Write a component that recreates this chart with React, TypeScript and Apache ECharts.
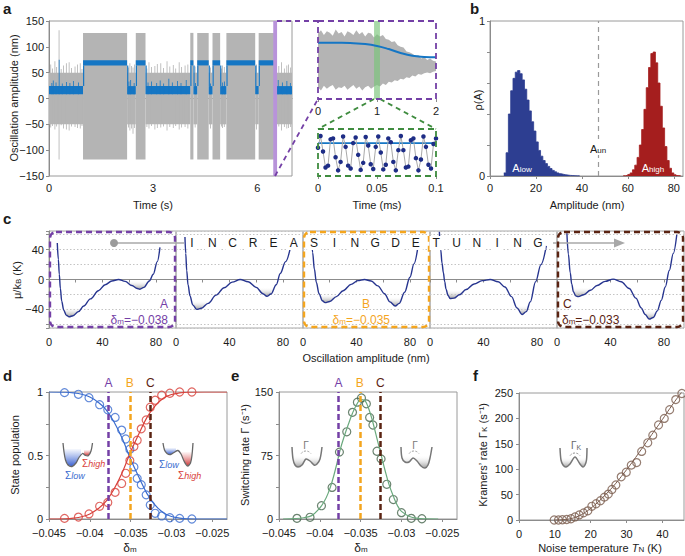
import React, { useEffect, useRef } from 'react';
import * as echarts from 'echarts';

const FONT = '"Liberation Sans", Arial, Helvetica, sans-serif';
const TEXT = '#1a1a1a';
const AXIS = '#8c8c8c';
const PURPLE = '#7440a6';
const ORANGE = '#f4a51e';
const BROWN = '#5a2312';
const GREEN = '#3f8c3f';
const GRAY = '#b4b4b4';
const TRACE_BLUE = '#1576c4';
const NAVY = '#27358f';
const D_BLUE = '#3a6ccf';
const D_RED = '#d8413b';

// ---------- panel a : telegraph trace ----------
const aSegStart = [0, 0.98, 2.25, 2.5, 2.78, 4.07, 4.16, 4.27, 4.6, 4.71, 4.93, 5.11, 5.94, 6.04, 6.48];
const aSegEnd = [0.98, 2.25, 2.5, 2.78, 4.07, 4.16, 4.27, 4.6, 4.71, 4.93, 5.11, 5.94, 6.04, 6.48, 7];
const aSegState = ['low', 'high', 'low', 'high', 'low', 'high', 'low', 'high', 'low', 'high', 'low', 'high', 'low', 'high', 'low'];
const aGrayLow = [-50, 50];
const aGrayHigh = [-118, 127];
const aBlueLow = [8, 24];
const aBlueHigh = [64, 74];
const aGraySpikeT = [0.05, 0.1, 0.17, 0.22, 0.29, 0.35, 0.42, 0.5, 0.58, 0.65, 0.75, 0.82, 0.9, 0.95, 2.29, 2.33, 2.38, 2.42, 2.46, 2.82, 2.88, 2.95, 3.05, 3.12, 3.22, 3.3, 3.4, 3.48, 3.58, 3.65, 3.75, 3.82, 3.92, 4.0, 4.21, 4.65, 4.97, 5.0, 5.05, 5.98, 6.52, 6.55, 6.62, 6.7, 6.78, 6.85, 6.9, 6.96];
const aGraySpikeHi = [66, 58, 72, 61, 132, 57, 64, 68, 70, 59, 62, 66, 68, 57, 60, 68, 63, 60, 66, 58, 70, 61, 63, 67, 68, 59, 72, 62, 65, 58, 70, 61, 64, 66, 62, 60, 58, 64, 61, 66, 60, 68, 63, 70, 58, 64, 66, 60];
const aGraySpikeLo = [-56, -53, -60, -54, -118, -52, -58, -60, -62, -54, -55, -57, -58, -53, -56, -62, -58, -68, -57, -55, -58, -53, -60, -57, -56, -54, -62, -55, -57, -53, -60, -56, -55, -58, -56, -58, -54, -57, -55, -60, -55, -57, -54, -62, -55, -58, -57, -55];
const aBlueSpikeT = [0.08, 0.12, 0.2, 0.29, 0.38, 0.5, 0.6, 0.7, 0.85, 2.3, 2.35, 2.45, 2.85, 2.95, 3.1, 3.2, 3.3, 3.45, 3.55, 3.7, 3.8, 3.95, 4.22, 4.65, 5.0, 5.05, 6.55, 6.6, 6.72, 6.85, 6.95];
const aBlueSpikeHi = [30, 35, 31, 75, 29, 32, 30, 34, 31, 33, 36, 30, 31, 33, 30, 35, 29, 38, 31, 34, 30, 36, 30, 29, 31, 33, 30, 36, 31, 34, 30];
const aHighlight = [6.46, 6.57];

// inset (ms)
const insetT = [0, 0.05, 0.1, 0.15, 0.2, 0.25, 0.3, 0.35, 0.4, 0.45, 0.5, 0.55, 0.6, 0.65, 0.7, 0.75, 0.8, 0.85, 0.9, 0.95, 1.0, 1.05, 1.1, 1.15, 1.2, 1.25, 1.3, 1.35, 1.4, 1.45, 1.5, 1.55, 1.6, 1.65, 1.7, 1.75, 1.8, 1.85, 1.9, 1.95, 2.0];
const insetUpper = [84, 88, 82, 87, 85, 81, 89, 84, 86, 80, 87, 85, 82, 88, 83, 86, 80, 85, 84, 79, 83, 80, 82, 77, 76, 73, 74, 69, 67, 66, 61, 60, 58, 55, 56, 52, 54, 50, 52, 49, 48];
const insetLower = [15, 11, 17, 13, 16, 18, 12, 15, 14, 17, 12, 15, 18, 13, 16, 11, 15, 17, 13, 16, 18, 16, 20, 18, 22, 21, 24, 23, 26, 25, 28, 27, 30, 29, 32, 31, 33, 34, 33, 35, 36];
const insetBlueT = [0, 0.4, 0.6, 0.8, 1.0, 1.2, 1.4, 1.6, 1.8, 2.0];
const insetBlueV = [72, 72, 71.5, 70.5, 68, 64, 59, 55.5, 54, 53.5];
const insetBand = [0.95, 1.05];
const zoomSamples = [60, 85, 52, 18, 22, 78, 80, 40, 12, 30, 84, 62, 22, 16, 70, 82, 45, 13, 28, 83, 65, 25, 15, 62, 84, 50, 14, 24, 80, 72, 30, 12, 55, 85, 55, 18, 20, 76, 80, 38, 12, 35, 84, 62, 24, 16, 68, 80];
const zoomMean = 70;

// ---------- panel b : histograms ----------
const histLowA = [6, 7, 8, 9, 10, 11, 12, 13, 14, 15, 16, 17, 18, 19, 20, 21, 22, 23, 24, 25, 26, 27, 28, 29, 30, 31, 32, 33, 34, 35, 36, 37, 38];
const histLowP = [0.02, 0.15, 0.4, 0.55, 0.63, 0.67, 0.68, 0.66, 0.62, 0.56, 0.49, 0.42, 0.35, 0.29, 0.22, 0.165, 0.128, 0.1, 0.08, 0.062, 0.048, 0.036, 0.027, 0.02, 0.015, 0.011, 0.008, 0.006, 0.004, 0.003, 0.002, 0.001, 0.001];
const histHighA = [58, 59, 60, 61, 62, 63, 64, 65, 66, 67, 68, 69, 70, 71, 72, 73, 74, 75, 76, 77, 78, 79, 80, 81, 82];
const histHighP = [0.002, 0.005, 0.01, 0.02, 0.04, 0.07, 0.12, 0.2, 0.3, 0.43, 0.57, 0.7, 0.79, 0.8, 0.73, 0.6, 0.45, 0.31, 0.19, 0.1, 0.05, 0.02, 0.008, 0.003, 0.001];
const aUnstable = 47;

// ---------- panel c : potentials ----------
const cCurve1 = [[6.2, 49], [7, 27], [7.7, 7], [8.5, -12], [9.5, -29], [11, -41], [13, -48], [15, -50], [18, -48.5], [22, -43], [26, -35.5], [31, -26], [37, -15], [42, -7], [47, -2], [52, 0], [57, -2.5], [62, -8], [66, -12], [68, -13], [71, -10.5], [75, -2], [78, 7], [81, 24], [83, 43]];
const cCurve2 = [[6.7, 57], [7.3, 35], [8, 12], [9, -7], [10.5, -22], [12.5, -34], [15.5, -40], [19, -38.5], [24, -32], [30, -21], [36, -11], [42, -3.5], [48, 0], [54, -3], [60, -10.5], [65, -19], [68, -22.5], [71, -19.5], [75, -7], [78, 8], [82, 24], [85.5, 42]];
const cCurve3 = [[6.4, 55], [7.2, 36], [8.5, 14], [10, -4], [12, -19], [14.5, -28.5], [16.5, -31], [20, -29.5], [25, -23], [30, -15], [36, -6.5], [41, -1.5], [46, 0], [51, -2], [56, -8.5], [61, -19], [65, -30], [69, -35.5], [72, -32], [76, -17], [80, 3], [83, 21], [86, 44]];
const cCurve4 = [[7, 64], [8, 40], [9, 22], [10, 9], [11, -3], [12, -13], [13.5, -21.5], [15, -25.5], [18, -25], [22, -20.5], [27, -13.5], [33, -6], [39, -1.5], [45, 0], [51, -3], [56, -10], [61, -23], [65, -38], [69, -47], [72, -43], [75, -30], [79, -3], [83, 20], [87, 45]];
const cCurve5 = [[7.4, 62], [8.5, 34], [9.9, 9], [11, -6], [12.3, -16.5], [14, -22], [16, -23], [20, -20.5], [25, -14.5], [30, -8], [36, -2.5], [42, 0.5], [48, -3], [54, -12], [59, -25], [63, -38], [66, -47], [69, -53], [72, -51], [75, -42], [78, -28], [81, -10], [84, 12], [87, 35], [89.6, 60]];
const cShadeLeft = [-37, -28, -19, -13, -10];
const cShadeRight = [-1, -10, -23, -34, -41];
const cBarrierA = [52, 48, 46, 45, 42];
const cWord = 'INCREASINGDETUNING';

// ---------- panel d : populations ----------
const dDelta = [-0.0431, -0.0414, -0.0401, -0.0388, -0.0378, -0.0369, -0.0361, -0.0356, -0.0351, -0.0346, -0.0342, -0.0337, -0.0331, -0.0326, -0.032, -0.0312, -0.0302, -0.029, -0.0275];
const dLow = [0.995, 0.982, 0.955, 0.9, 0.86, 0.8, 0.7, 0.63, 0.55, 0.41, 0.32, 0.27, 0.19, 0.11, 0.045, 0.024, 0.01, 0.005, 0];
const dHigh = [0.005, 0.015, 0.04, 0.1, 0.13, 0.21, 0.28, 0.36, 0.46, 0.57, 0.62, 0.71, 0.78, 0.88, 0.935, 0.975, 0.99, 1, 1];
const dFitDelta = [-0.045, -0.043, -0.042, -0.041, -0.04, -0.039, -0.038, -0.037, -0.036, -0.035, -0.034, -0.033, -0.032, -0.031, -0.03, -0.029, -0.028, -0.026, -0.0232];
const dFitLow = [1, 0.998, 0.993, 0.982, 0.96, 0.92, 0.86, 0.76, 0.63, 0.47, 0.33, 0.2, 0.11, 0.05, 0.02, 0.007, 0.002, 0, 0];
const dFitHigh = [0, 0.002, 0.007, 0.018, 0.04, 0.08, 0.14, 0.24, 0.37, 0.53, 0.67, 0.8, 0.89, 0.95, 0.98, 0.993, 0.998, 1, 1];
const markerDelta = [-0.0377, -0.0351, -0.0326];
const markerNames = ['A', 'B', 'C'];
const markerColors = [PURPLE, ORANGE, BROWN];

// ---------- panel e : switching rate ----------
const eDelta = [-0.0428, -0.0412, -0.0398, -0.0385, -0.0376, -0.0367, -0.036, -0.0354, -0.0349, -0.0343, -0.0339, -0.0335, -0.033, -0.0325, -0.0318, -0.031, -0.03, -0.0288, -0.0275];
const eRate = [0.8, 2, 15.7, 37.3, 79, 103, 126, 138, 143, 136, 120, 111, 80, 71, 41, 23, 7.5, 0.8, 0.3];
const eFitDelta = [-0.0445, -0.043, -0.042, -0.041, -0.04, -0.0395, -0.039, -0.0385, -0.038, -0.0375, -0.037, -0.0365, -0.036, -0.0355, -0.035, -0.0345, -0.034, -0.0335, -0.033, -0.0325, -0.032, -0.0315, -0.031, -0.0305, -0.03, -0.029, -0.028, -0.027, -0.0255];
const eFitRate = [0, 0.5, 1.5, 4, 13, 20, 30, 44, 62, 82, 98, 112, 125, 135, 141, 140, 130, 114, 95, 76, 57, 40, 27, 16, 9, 3, 0.8, 0.2, 0];

// ---------- panel f : Kramers rate ----------
const fTemp = [9.8, 11.0, 12.1, 13.3, 14.5, 15.6, 16.8, 18.0, 19.2, 20.3, 21.5, 22.7, 23.8, 24.9, 25.9, 27.0, 28.5, 29.9, 31.3, 32.8, 34.2, 35.9, 37.3, 38.9, 40.5, 42.0, 43.7, 45.4];
const fRate = [0, 0, 0.5, 1, 2.5, 6, 10, 14, 18, 27, 32, 38, 45, 51, 60, 69, 85, 94, 108, 113, 135, 152, 167, 187, 200, 217, 237, 249];
const fFitTemp = [10, 12, 14, 16, 18, 20, 22, 24, 26, 28, 30, 32, 34, 36, 38, 40, 42, 44, 45.5];
const fFitRate = [0, 0.5, 2, 6, 13, 23, 35, 49, 64, 81, 99, 118, 138, 158, 178, 198, 219, 239, 253];

// ---------- helpers ----------
const fmt = (v: number) => String(parseFloat(v.toFixed(4))).replace('-', '\u2212');

const labelStyle = (extra: any = {}) => ({ color: TEXT, fontSize: 11, fontFamily: FONT, margin: 6, ...extra });

function valAxis(gridIndex: number, min: number, max: number, interval: number | undefined, extra: any = {}) {
  const ax: any = {
    type: 'value', gridIndex, min, max,
    axisLine: { show: true, lineStyle: { color: AXIS, width: 1 } },
    axisTick: { show: true, length: 3, lineStyle: { color: AXIS } },
    axisLabel: labelStyle({ formatter: fmt }),
    splitLine: { show: false },
  };
  if (interval !== undefined) ax.interval = interval;
  return { ...ax, ...extra, axisLabel: { ...ax.axisLabel, ...(extra.axisLabel || {}) } };
}

const rectRender = (fill: string, minW = 0.8) => (params: any, api: any) => {
  const a = api.coord([api.value(0), api.value(3)]);
  const b = api.coord([api.value(1), api.value(2)]);
  return { type: 'rect', shape: { x: a[0], y: a[1], width: Math.max(b[0] - a[0], minW), height: b[1] - a[1] }, style: { fill } };
};

function wellPoints(curve: number[][], from: number, to: number, level: number) {
  const pts: number[][] = [];
  for (let i = 0; i < curve.length; i++) {
    const p = curve[i];
    if (p[0] >= from && p[0] <= to && p[1] < level) pts.push(p);
    const q = curve[i + 1];
    if (q && p[0] >= from && q[0] <= to) {
      if ((p[1] < level) !== (q[1] < level)) {
        const f = (level - p[1]) / (q[1] - p[1]);
        pts.push([p[0] + f * (q[0] - p[0]), level]);
      }
    }
  }
  return pts;
}

const grayGrad = () => new echarts.graphic.LinearGradient(0, 0, 0, 1, [
  { offset: 0, color: 'rgba(255,255,255,0)' },
  { offset: 1, color: 'rgba(140,140,140,0.85)' },
]);

function txt(x: number, y: number, text: string, o: any = {}) {
  return {
    type: 'text', x, y, rotation: o.rotation || 0, z: o.z || 50,
    style: {
      text, fill: o.color || TEXT, fontSize: o.size || 11, fontFamily: FONT,
      fontWeight: o.weight || 'normal', fontStyle: o.italic ? 'italic' : 'normal',
      align: o.align || 'center', verticalAlign: o.va || 'middle',
      rich: o.rich, backgroundColor: o.bg, padding: o.pad,
    },
  };
}

function subRich(color: string, size = 11, subSize = 8, italicSub = false) {
  return {
    a: { fontSize: size, fontFamily: FONT, fill: color, lineHeight: size + 3, verticalAlign: 'bottom' },
    i: { fontSize: size, fontFamily: FONT, fill: color, fontStyle: 'italic', lineHeight: size + 3, verticalAlign: 'bottom' },
    s: { fontSize: subSize, fontFamily: FONT, fill: color, fontStyle: italicSub ? 'italic' : 'normal', lineHeight: subSize - 2, verticalAlign: 'bottom' },
  };
}

function line(x1: number, y1: number, x2: number, y2: number, color: string, width = 1.5, dash: any = null) {
  return { type: 'line', z: 40, shape: { x1, y1, x2, y2 }, style: { stroke: color, lineWidth: width, lineDash: dash } };
}
function dashRect(x: number, y: number, w: number, h: number, color: string, r = 0, width = 2) {
  return { type: 'rect', z: 45, shape: { x, y, width: w, height: h, r }, style: { fill: 'none', stroke: color, lineWidth: width, lineDash: [6, 4] } };
}
function poly(points: number[][], fill: any) {
  return { type: 'polygon', z: 44, shape: { points }, style: { fill } };
}
function pline(points: number[][], color: string, width = 1.3) {
  return { type: 'polyline', z: 45, shape: { points, smooth: 0.3 }, style: { stroke: color, lineWidth: width, fill: 'none' } };
}

function buildOption() {
  const grids: any[] = [
    { left: 49, top: 21, width: 243, height: 155, show: true, borderColor: '#9a9a9a' },
    { left: 318, top: 21, width: 118, height: 78, show: false },
    { left: 318, top: 129, width: 118, height: 47, show: false },
    { left: 490, top: 21, width: 193, height: 155, show: true, borderColor: '#9a9a9a' },
  ];
  for (let i = 0; i < 5; i++) grids.push({ left: 49 + 127 * i, top: 231, width: 127, height: 97, show: true, borderColor: '#a8a8a8' });
  grids.push({ left: 49, top: 392, width: 178, height: 127, show: true, borderColor: '#9a9a9a' });
  grids.push({ left: 279, top: 392, width: 178, height: 127, show: true, borderColor: '#9a9a9a' });
  grids.push({ left: 519, top: 393, width: 165, height: 127, show: true, borderColor: '#9a9a9a' });

  const xAxes: any[] = [];
  const yAxes: any[] = [];
  // a main
  xAxes.push(valAxis(0, 0, 7, 3, { axisLabel: { showMaxLabel: false } }));
  yAxes.push(valAxis(0, -150, 150, 50, { axisLabel: { margin: 5 } }));
  // a insets
  xAxes.push(valAxis(1, 0, 2, 1, { axisLine: { show: false } }));
  yAxes.push({ type: 'value', gridIndex: 1, min: 0, max: 100, show: false });
  xAxes.push(valAxis(2, 0, 0.1, 0.05, { axisLine: { show: false } }));
  yAxes.push({ type: 'value', gridIndex: 2, min: 0, max: 100, show: false });
  // b
  xAxes.push(valAxis(3, 0, 84, 20, { axisLabel: { showMaxLabel: false } }));
  yAxes.push(valAxis(3, 0, 1, 0.2, { axisLabel: { formatter: (v: number) => (v === 0 || v === 1 ? String(v) : ''), margin: 5 } }));
  // c
  for (let i = 0; i < 5; i++) {
    xAxes.push(valAxis(4 + i, 0, 95, 20, {
      axisLabel: { margin: 8, showMaxLabel: false, formatter: (v: number) => (v === 0 || v === 40 || v === 80 ? String(v) : '') },
    }));
    yAxes.push(valAxis(4 + i, -65, 65, undefined, {
      splitNumber: 6,
      axisLine: { show: i === 0, lineStyle: { color: AXIS } },
      axisTick: { show: i === 0, length: 3, lineStyle: { color: AXIS } },
      axisLabel: { show: i === 0, margin: 5, formatter: (v: number) => (v === 40 || v === 0 || v === -40 ? fmt(v) : '') },
      splitLine: { show: true, lineStyle: { color: '#c4c4c4', type: [1.5, 2], width: 1 } },
    }));
  }
  // d, e
  const deltaFmt = (v: number) => fmt(v);
  xAxes.push(valAxis(9, -0.045, -0.0232, 0.005, { axisLabel: { showMaxLabel: false, margin: 8, formatter: deltaFmt } }));
  yAxes.push(valAxis(9, 0, 1, 0.25, { axisLabel: { margin: 6, formatter: (v: number) => (v === 0 || v === 0.5 || v === 1 ? String(v) : '') } }));
  xAxes.push(valAxis(10, -0.045, -0.0232, 0.005, { axisLabel: { showMaxLabel: false, margin: 8, formatter: deltaFmt } }));
  yAxes.push(valAxis(10, 0, 150, 37.5, { axisLabel: { margin: 6, formatter: (v: number) => (v === 0 || v === 75 || v === 150 ? String(v) : '') } }));
  // f
  xAxes.push(valAxis(11, 0, 46, 10, { axisLabel: { showMaxLabel: false, margin: 8 } }));
  yAxes.push(valAxis(11, 0, 250, 50, { axisLabel: { margin: 6 } }));

  const series: any[] = [];

  // ---- a main ----
  const grayRects: number[][] = [];
  const blueRects: number[][] = [];
  const transitions: number[][] = [];
  aSegStart.forEach((s, i) => {
    const g = aSegState[i] === 'high' ? aGrayHigh : aGrayLow;
    const b = aSegState[i] === 'high' ? aBlueHigh : aBlueLow;
    grayRects.push([s, aSegEnd[i], g[0], g[1]]);
    blueRects.push([s, aSegEnd[i], b[0], b[1]]);
    if (i > 0) transitions.push([s, s, aBlueLow[1], aBlueHigh[0]]);
  });
  aGraySpikeT.forEach((t, i) => grayRects.push([t - 0.012, t + 0.012, aGraySpikeLo[i], aGraySpikeHi[i]]));
  aBlueSpikeT.forEach((t, i) => blueRects.push([t - 0.009, t + 0.009, aBlueLow[0], aBlueSpikeHi[i]]));
  const enc = { x: [0, 1], y: [2, 3] };
  series.push({ type: 'custom', xAxisIndex: 0, yAxisIndex: 0, data: grayRects, encode: enc, renderItem: rectRender(GRAY), silent: true });
  series.push({ type: 'custom', xAxisIndex: 0, yAxisIndex: 0, data: blueRects, encode: enc, renderItem: rectRender(TRACE_BLUE), silent: true });
  series.push({ type: 'custom', xAxisIndex: 0, yAxisIndex: 0, data: transitions, encode: enc, renderItem: rectRender(TRACE_BLUE, 1.2), silent: true });
  series.push({ type: 'custom', xAxisIndex: 0, yAxisIndex: 0, data: [[aHighlight[0], aHighlight[1], -150, 150]], encode: enc, renderItem: rectRender('#b893da'), silent: true });

  // ---- a inset top ----
  series.push({
    type: 'custom', xAxisIndex: 1, yAxisIndex: 1, data: [[0, 0, 0, 0]], encode: enc, silent: true,
    renderItem: (p: any, api: any) => {
      const pts = insetT.map((t, i) => api.coord([t, insetUpper[i]]));
      for (let i = insetT.length - 1; i >= 0; i--) pts.push(api.coord([insetT[i], insetLower[i]]));
      return { type: 'polygon', shape: { points: pts }, style: { fill: GRAY } };
    },
  });
  series.push({ type: 'custom', xAxisIndex: 1, yAxisIndex: 1, data: [[insetBand[0], insetBand[1], 0, 100]], encode: enc, renderItem: rectRender('rgba(120,196,120,0.65)'), silent: true });
  series.push({ type: 'line', xAxisIndex: 1, yAxisIndex: 1, data: insetBlueT.map((t, i) => [t, insetBlueV[i]]), smooth: 0.5, symbol: 'none', lineStyle: { color: TRACE_BLUE, width: 2 }, silent: true });

  // ---- a inset bottom ----
  series.push({ type: 'line', xAxisIndex: 2, yAxisIndex: 2, data: [[0, zoomMean], [0.1, zoomMean]], symbol: 'none', lineStyle: { color: TRACE_BLUE, width: 1.6 }, silent: true });
  series.push({
    type: 'line', xAxisIndex: 2, yAxisIndex: 2, silent: true,
    data: zoomSamples.map((v, i) => [(i * 0.1) / (zoomSamples.length - 1), v]),
    symbol: 'circle', symbolSize: 4.5, itemStyle: { color: '#1e2d86' }, lineStyle: { color: '#a9a9a9', width: 1 },
  });

  // ---- b ----
  series.push({
    type: 'line', xAxisIndex: 3, yAxisIndex: 3, step: 'end', symbol: 'none', silent: true,
    data: [...histLowA.map((a, i) => [a, histLowP[i]]), [histLowA[histLowA.length - 1] + 1, 0]],
    lineStyle: { color: '#2d3e91', width: 0.8 }, areaStyle: { color: '#2d3e91', opacity: 1 },
    markLine: {
      silent: true, symbol: ['none', 'none'], label: { show: false }, precision: 6,
      data: [{ xAxis: aUnstable }], lineStyle: { color: '#9a9a9a', type: [5, 4], width: 1.2 },
    },
  });
  series.push({
    type: 'line', xAxisIndex: 3, yAxisIndex: 3, step: 'end', symbol: 'none', silent: true,
    data: [...histHighA.map((a, i) => [a, histHighP[i]]), [histHighA[histHighA.length - 1] + 1, 0]],
    lineStyle: { color: '#a51e1e', width: 0.8 }, areaStyle: { color: '#a51e1e', opacity: 1 },
  });

  // ---- c ----
  const curves = [cCurve1, cCurve2, cCurve3, cCurve4, cCurve5];
  curves.forEach((curve, i) => {
    series.push({
      type: 'custom', xAxisIndex: 4 + i, yAxisIndex: 4 + i, data: [[0, 0, 0, 0]], encode: enc, silent: true,
      renderItem: (p: any, api: any) => {
        const left = wellPoints(curve, 0, cBarrierA[i], cShadeLeft[i]).map((q) => api.coord(q));
        const right = wellPoints(curve, cBarrierA[i], 100, cShadeRight[i]).map((q) => api.coord(q));
        return {
          type: 'group', children: [
            { type: 'polygon', shape: { points: left }, style: { fill: grayGrad() } },
            { type: 'polygon', shape: { points: right }, style: { fill: grayGrad() } },
          ],
        };
      },
    });
    series.push({
      type: 'line', xAxisIndex: 4 + i, yAxisIndex: 4 + i, data: curve, smooth: 0.35, smoothMonotone: 'x',
      symbol: 'none', lineStyle: { color: NAVY, width: 1.4 }, silent: true,
    });
  });

  // ---- d ----
  const markLines = {
    silent: true, symbol: ['none', 'none'], precision: 6,
    data: markerDelta.map((x, i) => ({
      xAxis: x,
      lineStyle: { color: markerColors[i], type: [6, 3], width: 2.5 },
      label: { show: true, formatter: markerNames[i], position: 'end', color: markerColors[i], fontSize: 12, fontFamily: FONT, distance: 3 },
    })),
  };
  series.push({ type: 'line', xAxisIndex: 9, yAxisIndex: 9, data: dFitDelta.map((x, i) => [x, dFitLow[i]]), smooth: 0.4, symbol: 'none', lineStyle: { color: D_BLUE, width: 1.2 }, silent: true, markLine: markLines });
  series.push({ type: 'line', xAxisIndex: 9, yAxisIndex: 9, data: dFitDelta.map((x, i) => [x, dFitHigh[i]]), smooth: 0.4, symbol: 'none', lineStyle: { color: D_RED, width: 1.2 }, silent: true });
  series.push({ type: 'scatter', xAxisIndex: 9, yAxisIndex: 9, data: dDelta.map((x, i) => [x, dLow[i]]), symbol: 'circle', symbolSize: 8, itemStyle: { color: 'rgba(255,255,255,0)', borderColor: D_BLUE, borderWidth: 1.2 }, silent: true });
  series.push({ type: 'scatter', xAxisIndex: 9, yAxisIndex: 9, data: dDelta.map((x, i) => [x, dHigh[i]]), symbol: 'circle', symbolSize: 8, itemStyle: { color: 'rgba(255,255,255,0)', borderColor: D_RED, borderWidth: 1.2 }, silent: true });

  // ---- e ----
  series.push({ type: 'line', xAxisIndex: 10, yAxisIndex: 10, data: eFitDelta.map((x, i) => [x, eFitRate[i]]), smooth: 0.4, symbol: 'none', lineStyle: { color: '#6aa97d', width: 1.2 }, silent: true, markLine: markLines });
  series.push({ type: 'scatter', xAxisIndex: 10, yAxisIndex: 10, data: eDelta.map((x, i) => [x, eRate[i]]), symbol: 'circle', symbolSize: 8, itemStyle: { color: 'rgba(255,255,255,0)', borderColor: '#45644b', borderWidth: 1.2 }, silent: true });

  // ---- f ----
  series.push({ type: 'line', xAxisIndex: 11, yAxisIndex: 11, data: fFitTemp.map((x, i) => [x, fFitRate[i]]), smooth: 0.4, symbol: 'none', lineStyle: { color: '#7a5c4e', width: 1 }, silent: true });
  series.push({ type: 'scatter', xAxisIndex: 11, yAxisIndex: 11, data: fTemp.map((x, i) => [x, fRate[i]]), symbol: 'circle', symbolSize: 8, itemStyle: { color: 'rgba(255,255,255,0)', borderColor: '#7a5c4e', borderWidth: 1.2 }, silent: true });

  // ---------- graphics ----------
  const g: any[] = [];
  const L = { size: 15, weight: 'bold', align: 'left', va: 'top' };
  g.push(txt(3, 1, 'a', L), txt(470, 1, 'b', L), txt(3, 211, 'c', L), txt(3, 368, 'd', L), txt(231, 368, 'e', L), txt(473, 368, 'f', L));

  // axis titles
  g.push(txt(14, 98, 'Oscillation amplitude (nm)', { rotation: Math.PI / 2 }));
  g.push(txt(153, 205, 'Time (s)'), txt(377, 205, 'Time (ms)'), txt(587, 205, 'Amplitude (nm)'));
  g.push(txt(478, 100, 'ρ(A)', { rotation: Math.PI / 2 }));
  g.push(txt(15, 280, '{a|μ/k}{s|B}{a| (K)}', { rotation: Math.PI / 2, rich: subRich(TEXT, 11, 8) }));
  g.push(txt(366, 358, 'Oscillation amplitude (nm)'));
  g.push(txt(15, 455, 'State population', { rotation: Math.PI / 2 }));
  g.push(txt(130, 546, '{a|δ}{s|m}', { rich: subRich(TEXT, 12, 8) }));
  g.push(txt(243, 455, '{a|Switching rate Γ (s⁻¹)}', { rotation: Math.PI / 2, rich: subRich(TEXT, 11, 8) }));
  g.push(txt(361, 546, '{a|δ}{s|m}', { rich: subRich(TEXT, 12, 8) }));
  g.push(txt(481, 455, '{a|Kramers’ rate Γ}{s|K}{a| (s⁻¹)}', { rotation: Math.PI / 2, rich: subRich(TEXT, 11, 8) }));
  g.push(txt(600, 546, '{a|Noise temperature }{i|T}{s|N}{a| (K)}', { rich: subRich(TEXT, 11, 8) }));

  // panel a connectors / frames
  g.push(line(277, 21, 318, 21, PURPLE, 1.8, [5, 4]));
  g.push(line(275, 176, 318, 99, PURPLE, 1.8, [5, 4]));
  g.push(dashRect(318, 21, 118, 78, PURPLE, 0, 1.8));
  g.push(line(374, 99, 318, 129, GREEN, 1.8, [5, 4]));
  g.push(line(380, 99, 436, 129, GREEN, 1.8, [5, 4]));
  g.push(dashRect(318, 129, 118, 47, GREEN, 0, 1.8));

  // panel b labels
  g.push(txt(522, 166, '{a|A}{s|low}', { rich: subRich('#ffffff', 11, 8) }));
  g.push(txt(653, 166, '{a|A}{s|high}', { rich: subRich('#ffffff', 11, 8) }));
  g.push(txt(598, 147, '{a|A}{s|un}', { rich: subRich(TEXT, 11, 8), bg: '#ffffff', pad: [1, 1] }));

  // panel c frames and annotations
  g.push(dashRect(50, 232, 125, 95, PURPLE, 6, 2.4));
  g.push(dashRect(304, 232, 125, 95, ORANGE, 6, 2.4));
  g.push(dashRect(558, 232, 125, 95, BROWN, 6, 2.4));
  g.push({ type: 'circle', z: 46, shape: { cx: 114, cy: 243, r: 4 }, style: { fill: '#9b9b9b' } });
  g.push(line(114, 243, 184, 243, '#a8a8a8', 1.5));
  g.push(line(553, 243, 615, 243, '#a8a8a8', 1.5));
  g.push({ type: 'polygon', z: 46, shape: { points: [[614, 238.5], [625, 243], [614, 247.5]] }, style: { fill: '#a8a8a8' } });
  cWord.split('').forEach((ch, i) => {
    g.push(txt(192 + i * 20.35, 243, ch, { size: 12, bg: '#ffffff', pad: [1, 3], z: 60 }));
  });
  const dRich = (c: string) => subRich(c, 12, 8);
  g.push(txt(168, 304, 'A', { size: 12, color: PURPLE, align: 'right' }));
  g.push(txt(168, 318, '{a|δ}{s|m}{a|=−0.038}', { rich: dRich(PURPLE), align: 'right' }));
  g.push(txt(366, 304, 'B', { size: 12, color: ORANGE }));
  g.push(txt(390, 318, '{a|δ}{s|m}{a|=−0.035}', { rich: dRich(ORANGE), align: 'right' }));
  g.push(txt(563, 304, 'C', { size: 12, color: BROWN, align: 'left' }));
  g.push(txt(562, 318, '{a|δ}{s|m}{a|=−0.033}', { rich: dRich(BROWN), align: 'left' }));

  // panel d insets
  const blueGrad = () => new echarts.graphic.LinearGradient(0, 0, 0, 1, [
    { offset: 0, color: 'rgba(80,120,220,0.05)' }, { offset: 1, color: 'rgba(45,85,205,0.95)' }]);
  const redGrad = () => new echarts.graphic.LinearGradient(0, 0, 0, 1, [
    { offset: 0, color: 'rgba(225,90,90,0.05)' }, { offset: 1, color: 'rgba(200,40,40,0.95)' }]);
  g.push(poly([[64, 449], [64, 452], [65.5, 460], [68, 465], [72, 466.5], [76, 463], [79, 457.5], [81, 455], [81, 449]], blueGrad()));
  g.push(poly([[84, 450], [84, 454.5], [85.5, 455.5], [88.5, 455.5], [90.5, 452], [90.5, 450]], redGrad()));
  g.push(pline([[63, 443], [64, 452], [65.5, 460], [68, 465], [72, 466.5], [76, 463], [79, 457.5], [82.5, 453.5], [85.5, 455.5], [88.5, 455.5], [91, 451], [92.5, 443]], '#666'));
  g.push(poly([[164, 448], [164.5, 450], [167, 453.5], [170.5, 454.5], [174, 452.5], [176, 451], [176, 448]], blueGrad()));
  g.push(poly([[181, 452], [181, 454], [184, 461], [187.5, 466], [190.5, 463], [192, 455], [192, 452]], redGrad()));
  g.push(pline([[163, 443], [164.5, 450], [167, 453.5], [170.5, 454.5], [174, 452.5], [178, 450.5], [181, 454], [184, 461], [187.5, 466], [190.5, 463], [192, 455], [193, 443]], '#666'));
  const sigRich = (c: string) => ({
    a: { fontSize: 10, fontFamily: FONT, fill: c, lineHeight: 13, verticalAlign: 'bottom' },
    s: { fontSize: 9, fontFamily: FONT, fill: c, fontStyle: 'italic', lineHeight: 7, verticalAlign: 'bottom' },
  });
  g.push(txt(82, 462, '{a|Σ}{s|high}', { rich: sigRich(D_RED), align: 'left' }));
  g.push(txt(65, 474, '{a|Σ}{s|low}', { rich: sigRich(D_BLUE), align: 'left' }));
  g.push(txt(159, 463, '{a|Σ}{s|low}', { rich: sigRich(D_BLUE), align: 'left' }));
  g.push(txt(178, 474, '{a|Σ}{s|high}', { rich: sigRich(D_RED), align: 'left' }));

  // panel e insets
  const eLeft = [[292, 447], [293, 459], [295, 465], [298, 467], [302, 465], [306, 459], [310, 461], [314, 465], [317, 464], [320, 459], [322, 447]];
  const eRight = [[401, 447], [402, 458], [405, 462], [409, 462], [413, 458], [417, 461], [421, 466], [425, 468], [428, 465], [430, 458], [432, 447]];
  g.push(poly([[293, 455], ...eLeft.slice(1, 10), [321, 455]], grayGrad()));
  g.push(pline(eLeft, '#777', 1.5));
  g.push(poly([[402, 455], ...eRight.slice(1, 10), [431, 455]], grayGrad()));
  g.push(pline(eRight, '#777', 1.5));
  g.push(txt(306, 445, 'Γ', { size: 10, color: '#777' }));
  g.push(txt(415, 445, 'Γ', { size: 10, color: '#777' }));
  g.push({ type: 'arc', z: 46, shape: { cx: 306, cy: 457, r: 6, startAngle: Math.PI * 1.2, endAngle: Math.PI * 1.8 }, style: { stroke: '#999', lineWidth: 1, fill: 'none', lineDash: [2, 1.5] } });
  g.push({ type: 'arc', z: 46, shape: { cx: 414, cy: 457, r: 6, startAngle: Math.PI * 1.2, endAngle: Math.PI * 1.8 }, style: { stroke: '#999', lineWidth: 1, fill: 'none', lineDash: [2, 1.5] } });

  // panel f inset
  const fIcon = [[560, 448], [561, 460], [563, 465], [566, 467], [570, 464], [575, 457], [580, 464], [583, 467], [585, 465], [586.5, 460], [587, 448]];
  g.push(poly([[561, 458], ...fIcon.slice(1, 10), [586.5, 458]], grayGrad()));
  g.push(pline(fIcon, '#777', 1.5));
  g.push(txt(576, 444, '{a|Γ}{s|K}', { rich: subRich('#666', 10, 7) }));
  g.push({ type: 'arc', z: 46, shape: { cx: 575, cy: 459, r: 6, startAngle: Math.PI * 1.2, endAngle: Math.PI * 1.8 }, style: { stroke: '#888', lineWidth: 1, fill: 'none', lineDash: [2, 1.5] } });

  return {
    animation: false,
    backgroundColor: '#ffffff',
    textStyle: { fontFamily: FONT },
    grid: grids,
    xAxis: xAxes,
    yAxis: yAxes,
    series,
    graphic: { elements: g },
  };
}

export default function App() {
  const ref = useRef<HTMLDivElement>(null);
  useEffect(() => {
    const chart = echarts.init(ref.current as HTMLDivElement, null, { renderer: 'svg' });
    chart.setOption(buildOption() as any);
    return () => chart.dispose();
  }, []);
  return <div ref={ref} style={{ position: 'absolute', left: 0, top: 0, width: 685, height: 556, background: '#fff' }} />;
}
